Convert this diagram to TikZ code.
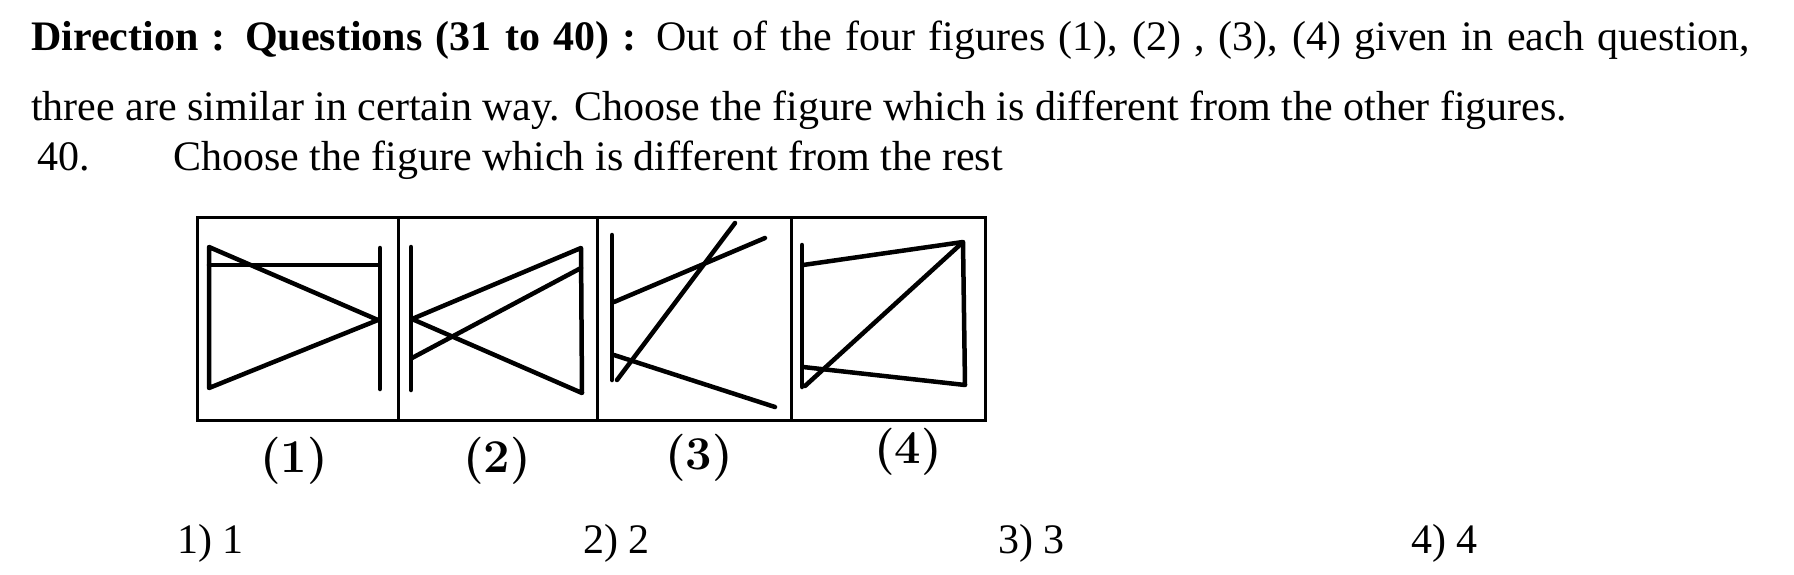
\documentclass[tikz,border=0pt]{standalone}
\usepackage{fontspec}
\newfontfamily\timesfont{Liberation Serif}
\usepackage{tikz}
\usetikzlibrary{calc}
\tikzset{
  txt/.style={anchor=base west, inner sep=0, font=\timesfont\fontsize{42}{50}\selectfont},
  figlbl/.style={inner sep=0, font=\fontsize{47}{47}\selectfont\bfseries},
  fig/.style={black, line width=4.5, line cap=round, line join=round},
  frame/.style={black, line width=3},
}

\begin{document}
\begin{tikzpicture}[x=1pt,y=-1pt]
\useasboundingbox (0,0) rectangle (1794,574);
\node[txt] (dir) at (31,50) {\makebox[1719pt][s]{\textbf{Direction : Questions (31 to 40) :} Out of the four figures (1), (2) , (3), (4) given in each question,}};
\node[txt] (dirb) at (31,120) {three are similar in certain way. Choose the figure which is different from the other figures.};
\node[txt] (qno) at (37,170) {40.};
\node[txt] (qtxt) at (173,170) {Choose the figure which is different from the rest};
% frame of the four figures
\draw[frame] (197,217) rectangle (985,420);
\foreach \x in {398,597,791} {
  \draw[frame] (\x,217) -- (\x,420);
}
% figure (1)
\draw[fig] (209,247) -- (378,320) -- (209,388) -- cycle;
\draw[fig] (209,265) -- (378,265);
\draw[fig] (380,248) -- (380,389);
% figure (2)
\draw[fig] (411,247) -- (411,390);
\draw[fig] (412,319) -- (581,248) -- (582,393) -- cycle;
\draw[fig] (412,358) -- (581,268);
% figure (3)
\draw[fig] (612,235) -- (612,380);
\draw[fig] (614,302) -- (765,238);
\draw[fig] (617,380) -- (735,223);
\draw[fig] (614,355) -- (775,407);
% figure (4)
\draw[fig] (802,245) -- (802,387);
\draw[fig] (803,265) -- (963,242) -- (965,385) -- (803,367);
\draw[fig] (805,386) -- (962,243);
\foreach \x/\y/\l in {294/461/1,497/461/2,699/458/3,908/452/4} {
  \node[figlbl] (lbl\l) at (\x,\y) {(\l)};
}
\foreach \x/\l in {177/1,583/2,998/3,1411/4} {
  \node[txt] (ans\l) at (\x,553) {\l) \l};
}
\end{tikzpicture}
\end{document}
